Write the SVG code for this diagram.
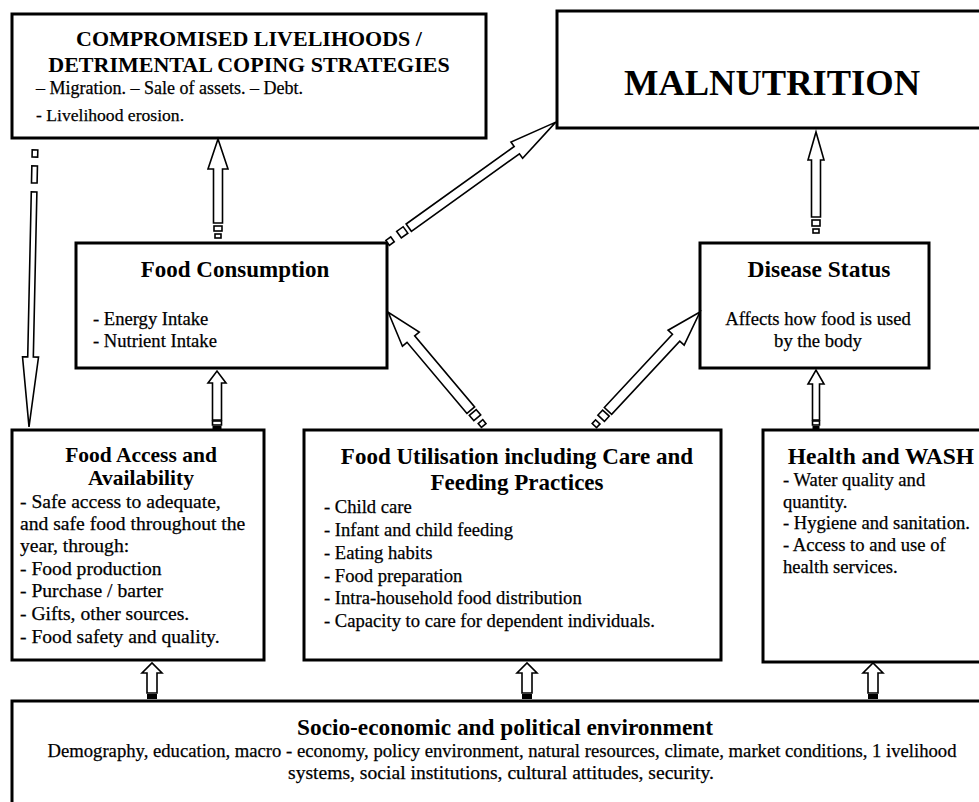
<svg xmlns="http://www.w3.org/2000/svg" width="979" height="802" viewBox="0 0 979 802">
  <style>
    .box { fill: #fff; stroke: #000; stroke-width: 3; }
    .arr { fill: #fff; stroke: #000; stroke-width: 1.6; stroke-linejoin: miter; }
    text { font-family: "Liberation Serif", "Times New Roman", serif; fill: #000; }
    .ttl { font-weight: bold; font-size: 23px; }
    .txt { font-size: 18.6px; stroke: #000; stroke-width: 0.25; }
    .mid { text-anchor: middle; }
  </style>
  <rect width="979" height="802" fill="#fff"/>

  <g id="compromised">
    <rect class="box" x="12" y="14" width="474" height="124"/>
    <text class="ttl mid" x="249" y="46" style="font-size:22px">COMPROMISED LIVELIHOODS /</text>
    <text class="ttl mid" x="249" y="72" style="font-size:22px">DETRIMENTAL COPING STRATEGIES</text>
    <text class="txt" x="36" y="94" style="font-size:18px">– Migration. – Sale of assets. – Debt.</text>
    <text class="txt" x="36" y="121" style="font-size:17.6px">- Livelihood erosion.</text>
  </g>

  <g id="malnutrition">
    <rect class="box" x="557" y="11" width="440" height="117"/>
    <text class="mid" x="772" y="95" style="font-weight:bold;font-size:36.5px">MALNUTRITION</text>
  </g>

  <g id="food-consumption">
    <rect class="box" x="76" y="243" width="311" height="125"/>
    <text class="ttl mid" x="235" y="277">Food Consumption</text>
    <text class="txt" x="93" y="325">- Energy Intake</text>
    <text class="txt" x="93" y="347">- Nutrient Intake</text>
  </g>

  <g id="disease-status">
    <rect class="box" x="700" y="243" width="229" height="125"/>
    <text class="ttl mid" x="819" y="277" style="font-size:23.5px">Disease Status</text>
    <text class="txt mid" x="818" y="325">Affects how food is used</text>
    <text class="txt mid" x="818" y="347">by the body</text>
  </g>

  <g id="food-access">
    <rect class="box" x="12" y="430" width="252" height="230"/>
    <text class="ttl mid" x="141" y="462" style="font-size:21.5px">Food Access and</text>
    <text class="ttl mid" x="141" y="485" style="font-size:21.5px">Availability</text>
    <g style="font-size:19.6px">
      <text class="txt" x="20" y="508" style="font-size:inherit">- Safe access to adequate,</text>
      <text class="txt" x="20" y="530" style="font-size:inherit">and safe food throughout the</text>
      <text class="txt" x="20" y="552" style="font-size:inherit">year, through:</text>
      <text class="txt" x="20" y="575" style="font-size:inherit">- Food production</text>
      <text class="txt" x="20" y="597" style="font-size:inherit">- Purchase / barter</text>
      <text class="txt" x="20" y="620" style="font-size:inherit">- Gifts, other sources.</text>
      <text class="txt" x="20" y="643" style="font-size:inherit">- Food safety and quality.</text>
    </g>
  </g>

  <g id="food-utilisation">
    <rect class="box" x="304" y="430" width="417" height="230"/>
    <text class="ttl mid" x="517" y="464">Food Utilisation including Care and</text>
    <text class="ttl mid" x="517" y="490">Feeding Practices</text>
    <text class="txt" x="324" y="513">- Child care</text>
    <text class="txt" x="324" y="536">- Infant and child feeding</text>
    <text class="txt" x="324" y="559">- Eating habits</text>
    <text class="txt" x="324" y="582">- Food preparation</text>
    <text class="txt" x="324" y="604">- Intra-household food distribution</text>
    <text class="txt" x="324" y="627">- Capacity to care for dependent individuals.</text>
  </g>

  <g id="health-wash">
    <rect class="box" x="763" y="430" width="240" height="232"/>
    <text class="ttl mid" x="881" y="464" style="font-size:23.5px">Health and WASH</text>
    <text class="txt" x="783" y="486">- Water quality and</text>
    <text class="txt" x="783" y="508">quantity.</text>
    <text class="txt" x="783" y="529">- Hygiene and sanitation.</text>
    <text class="txt" x="783" y="551">- Access to and use of</text>
    <text class="txt" x="783" y="573">health services.</text>
  </g>

  <g id="socio-economic">
    <rect class="box" x="12" y="701" width="990" height="120"/>
    <text class="ttl mid" x="505" y="735" style="font-size:24px" textLength="416" lengthAdjust="spacingAndGlyphs">Socio-economic and political environment</text>
    <text class="txt mid" x="502" y="757" style="font-size:19px" textLength="909" lengthAdjust="spacingAndGlyphs">Demography, education, macro - economy, policy environment, natural resources, climate, market conditions, 1 ivelihood</text>
    <text class="txt mid" x="501" y="779" style="font-size:19px" textLength="426" lengthAdjust="spacingAndGlyphs">systems, social institutions, cultural attitudes, security.</text>
  </g>

  <g id="connectors">
    <!-- Food Consumption -> Compromised livelihoods -->
    <g transform="translate(218,240) rotate(-90)">
      <polygon class="arr" points="17,-4.5 71,-4.5 71,-10 101,0 71,10 71,4.5 17,4.5"/>
      <rect class="arr" x="9" y="-4" width="5" height="8"/>
      <rect class="arr" x="2" y="-3" width="4" height="6"/>
    </g>
    <!-- Disease Status -> Malnutrition -->
    <g transform="translate(816,234) rotate(-90)">
      <polygon class="arr" points="17,-4.5 74,-4.5 74,-8 102,0 74,8 74,4.5 17,4.5"/>
      <rect class="arr" x="8" y="-4" width="6" height="8"/>
      <rect class="arr" x="1" y="-3" width="4" height="6"/>
    </g>
    <!-- Food Access -> Food Consumption -->
    <g transform="translate(217,429) rotate(-90)">
      <polygon class="arr" points="9,-4.5 46,-4.5 46,-9 58,0 46,9 46,4.5 9,4.5"/>
      <rect class="arr" x="4" y="-4.5" width="4" height="9"/>
      <rect x="0" y="-4.5" width="3" height="9" fill="#000"/>
    </g>
    <!-- Health and WASH -> Disease Status -->
    <g transform="translate(816,429) rotate(-90)">
      <polygon class="arr" points="9,-3.5 45,-3.5 45,-8 59,0 45,8 45,3.5 9,3.5"/>
      <rect class="arr" x="4" y="-3.5" width="4" height="7"/>
      <rect x="0" y="-3.5" width="3" height="7" fill="#000"/>
    </g>
    <!-- Socio-economic -> three middle boxes -->
    <g transform="translate(152,701) rotate(-90)">
      <polygon class="arr" points="8,-5 28,-5 28,-10 38,0 28,10 28,5 8,5"/>
      <rect x="2" y="-5" width="5" height="10" fill="#000"/>
    </g>
    <g transform="translate(527,701) rotate(-90)">
      <polygon class="arr" points="8,-5 28,-5 28,-10 38,0 28,10 28,5 8,5"/>
      <rect x="2" y="-5" width="5" height="10" fill="#000"/>
    </g>
    <g transform="translate(873,701) rotate(-90)">
      <polygon class="arr" points="8,-5 28,-5 28,-10 38,0 28,10 28,5 8,5"/>
      <rect x="2" y="-5" width="5" height="10" fill="#000"/>
    </g>
    <!-- Compromised livelihoods -> Food Access (long left arrow) -->
    <g transform="translate(35,150) rotate(91.24)">
      <polygon class="arr" points="42,-2.8 207,-2.8 207,-8 277,0 207,8 207,2.8 42,2.8"/>
      <rect class="arr" x="16" y="-2.8" width="17" height="5.6"/>
      <rect class="arr" x="0" y="-2.8" width="7" height="5.6"/>
    </g>
    <!-- Food Consumption -> Malnutrition -->
    <g transform="translate(386,244) rotate(-35.67)">
      <polygon class="arr" points="28,-4.5 161,-4.5 161,-10 209,0 161,10 161,4.5 28,4.5"/>
      <rect class="arr" x="16" y="-4" width="8" height="8"/>
      <rect class="arr" x="2" y="-3" width="6" height="6"/>
    </g>
    <!-- Food Utilisation -> Food Consumption -->
    <g transform="translate(485,427) rotate(-130.15)">
      <polygon class="arr" points="22,-5 115,-5 115,-11 150,0 115,11 115,5 22,5"/>
      <rect class="arr" x="12" y="-4.5" width="7" height="9"/>
      <rect class="arr" x="2" y="-3" width="5" height="6"/>
    </g>
    <!-- Food Utilisation -> Disease Status -->
    <g transform="translate(593,427) rotate(-47.06)">
      <polygon class="arr" points="22,-5 122,-5 122,-11 157,0 122,11 122,5 22,5"/>
      <rect class="arr" x="12" y="-4.5" width="7" height="9"/>
      <rect class="arr" x="2" y="-3" width="5" height="6"/>
    </g>
  </g>
</svg>
